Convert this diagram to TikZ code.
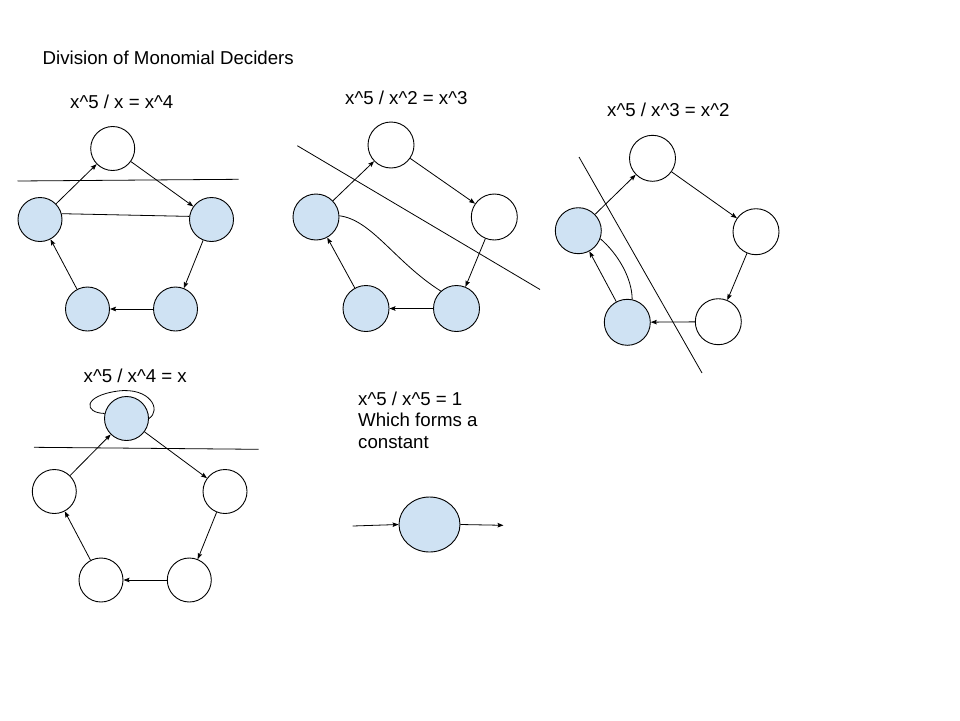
\documentclass[tikz,border=0pt]{standalone}
\usepackage{fontspec}
\setmainfont{Liberation Sans}
\usetikzlibrary{arrows.meta,shapes.geometric}
\definecolor{nodeblue}{HTML}{CFE2F3}
\begin{document}
\begin{tikzpicture}[x=1pt,y=-1pt,
  every node/.style={font=\fontsize{18.67}{22}\selectfont},
  vtx/.style={circle,draw=black,line width=0.9pt,minimum size=44pt,inner sep=0pt},
  vtxb/.style={vtx,minimum size=46pt},
  on/.style={fill=nodeblue},
  arr/.style={line width=0.8pt,-{Stealth[length=6pt,width=4.5pt,inset=1pt]}},
  ln/.style={line width=0.8pt},
  lbl/.style={anchor=base west,inner sep=0pt}]
\useasboundingbox[fill=white] (0,0) rectangle (960,720);

% titles
\node[lbl] (title) at (42.5,64) {Division of Monomial Deciders};
\node[lbl] (t1lbl) at (70,108.5) {x\^{}5 / x = x\^{}4};
\node[lbl] (t2lbl) at (345,104) {x\^{}5 / x\^{}2 = x\^{}3};
\node[lbl] (t3lbl) at (607,116.5) {x\^{}5 / x\^{}3 = x\^{}2};
\node[lbl] (t4lbl) at (83.5,382) {x\^{}5 / x\^{}4 = x};
\node[lbl] (t5lbl) at (358,405) {\vtop{\baselineskip=21.6pt\hbox{x\^{}5 / x\^{}5 = 1}\hbox{Which forms a}\hbox{constant}}};

% graph 1
\node[vtx] (a1) at (112.7,148.5) {};
\node[vtx,on] (a2) at (40,219.5) {};
\node[vtx,on] (a3) at (211.5,219.5) {};
\node[vtx,on] (a4) at (87.5,309) {};
\node[vtx,on] (a5) at (175.5,309) {};
\draw[arr] (a2) -- (a1);
\draw[arr] (a1) -- (a3);
\draw[arr] (a3) -- (a5);
\draw[arr] (a5) -- (a4);
\draw[arr] (a4) -- (a2);
\draw[ln] (a2.15) -- (a3.172);
\coordinate (c1a) at (17.5,181);
\coordinate (c1b) at (238.5,179.3);
\draw[ln] (c1a) -- (c1b);

% graph 2
\node[vtxb] (b1) at (391,145) {};
\node[vtxb,on] (b2) at (316,217) {};
\node[vtxb] (b3) at (494.3,217) {};
\node[vtxb,on] (b4) at (366,308.5) {};
\node[vtxb,on] (b5) at (456.5,308.5) {};
\draw[arr] (b2) -- (b1);
\draw[arr] (b1) -- (b3);
\draw[arr] (b3) -- (b5);
\draw[arr] (b5) -- (b4);
\draw[arr] (b4) -- (b2);
\draw[ln] (b2.3) .. controls (372,220) and (395,262) .. (b5.132);
\coordinate (c2a) at (297.3,145.7);
\coordinate (c2b) at (540,289.5);
\draw[ln] (c2a) -- (c2b);

% graph 3
\node[vtxb] (d1) at (652.5,158.3) {};
\node[vtxb,on] (d2) at (578.3,230.7) {};
\node[vtxb] (d3) at (756,231.7) {};
\node[vtxb,on] (d4) at (627.3,322.3) {};
\node[vtxb] (d5) at (718.3,321.7) {};
\draw[arr] (d2) -- (d1);
\draw[arr] (d1) -- (d3);
\draw[arr] (d3) -- (d5);
\draw[arr] (d5) -- (d4);
\draw[arr] (d4) -- (d2);
\draw[ln] (d2.-20) .. controls (618,254) and (632,278) .. (d4.78);
\coordinate (c3a) at (579,157);
\coordinate (c3b) at (702,373);
\draw[ln] (c3a) -- (c3b);

% graph 4
\node[vtx,on] (e1) at (126.5,418.5) {};
\node[vtx] (e2) at (54.3,491.5) {};
\node[vtx] (e3) at (225,491.5) {};
\node[vtx] (e4) at (101,580) {};
\node[vtx] (e5) at (189.3,580) {};
\draw[arr] (e2) -- (e1);
\draw[arr] (e1) -- (e3);
\draw[arr] (e3) -- (e5);
\draw[arr] (e5) -- (e4);
\draw[arr] (e4) -- (e2);
\draw[ln] (e1.167) .. controls (84,413) and (82,396) .. (118,391)
  .. controls (150,387) and (162,410) .. (e1.0);
\coordinate (c4a) at (34,447.3);
\coordinate (c4b) at (258.7,449.3);
\draw[ln] (c4a) -- (c4b);

% graph 5
\node[ellipse,draw=black,line width=0.9pt,fill=nodeblue,minimum width=61pt,minimum height=55pt,inner sep=0pt] (f1) at (429.5,524.5) {};
\coordinate (fin) at (352.7,526);
\coordinate (fout) at (503.5,525.3);
\draw[arr] (fin) -- (f1.west);
\draw[arr] (f1.east) -- (fout);
\end{tikzpicture}
\end{document}
